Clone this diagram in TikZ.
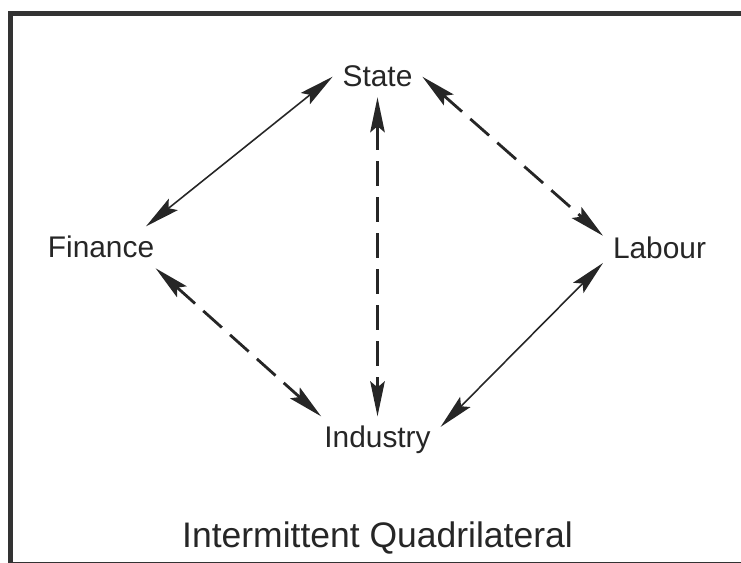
\documentclass[tikz,border=0pt]{standalone}
\usepackage{fontspec}
\setmainfont{Liberation Sans}
\usetikzlibrary{arrows.meta}
\begin{document}
\begin{tikzpicture}[x=0.02cm,y=-0.02cm,color=black!85,
  lbl/.style={inner sep=0pt,outer sep=0.2cm,anchor=base,font=\fontsize{17}{20}\selectfont},
  tip/.tip={Stealth[length=7mm,width=2.9mm,inset=1.2mm]},
  link/.style={tip-tip,line width=0.9pt},
  dashlink/.style={link,line width=1.6pt,dash pattern=on 0.5cm off 0.22cm}]
\useasboundingbox (0,0) rectangle (741,563);
\clip (0,0) rectangle (741,563);
\draw[line width=2.8pt,black!80](10.5,13.5) rectangle (760,564);
\node[lbl](state) at (377.5,87) {State};
\node[lbl](fin) at (101,258) {Finance};
\node[lbl](lab) at (659.5,258.5) {Labour};
\node[lbl](ind) at (377.5,448) {Industry};
\node[anchor=base,font=\fontsize{20.2}{24}\selectfont](title) at (377.5,548) {Intermittent Quadrilateral};
\draw[link](fin.25)--(state.west);
\draw[dashlink](state.east)--(lab.168);
\draw[dashlink](state.south)--(ind.north);
\draw[dashlink](fin.-21)--(ind.157);
\draw[link](ind.12)--(lab.195);
\end{tikzpicture}
\end{document}
